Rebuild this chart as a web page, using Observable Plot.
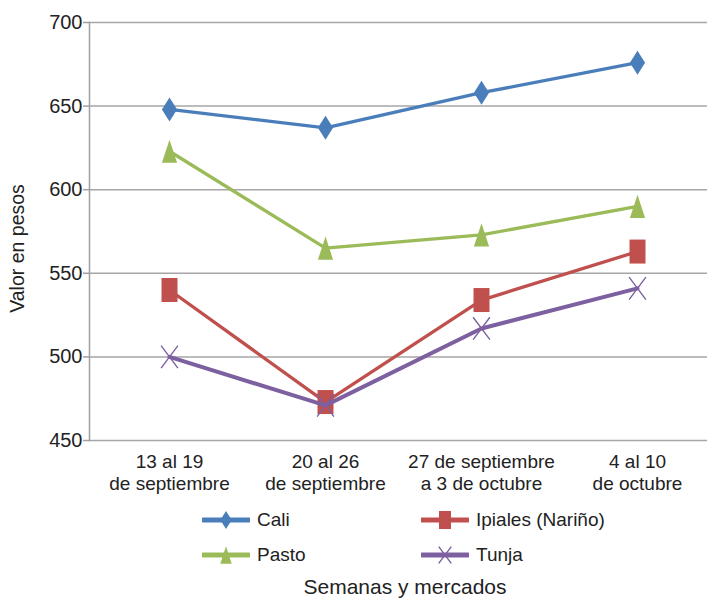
<!DOCTYPE html>
<html>
<head>
<meta charset="utf-8">
<script src="https://cdn.jsdelivr.net/npm/d3@7"></script>
<script src="https://cdn.jsdelivr.net/npm/@observablehq/plot@0.6"></script>
<style>
  body { margin: 0; background: #fff; font-family: "Liberation Sans", Arial, sans-serif; color: #222; }
  #chart { position: relative; width: 707px; height: 599px; overflow: hidden; background: #fff; }
  #legend { position: absolute; left: 202px; top: 507px; display: grid; grid-template-columns: 219px auto; grid-auto-rows: 35px; }
  .item { display: flex; align-items: center; height: 26px; font-size: 19px; }
  .item svg { margin-right: 7px; }
  #xtitle { position: absolute; left: 103px; right: 0; top: 576px; text-align: center; font-size: 21px; line-height: 21px; }
</style>
</head>
<body>
<div id="chart"></div>
<script>
// ---- data ----
const weeks = ["13 al 19\nde septiembre", "20 al 26\nde septiembre", "27 de septiembre\na 3 de octubre", "4 al 10\nde octubre"];
const series = ["Cali", "Ipiales (Nariño)", "Pasto", "Tunja"];
const cali    = [648, 637, 658, 676];
const ipiales = [540, 473, 534, 563];
const pasto   = [623, 565, 573, 590];
const tunja   = [500, 471, 517, 541];
const yTicks  = [450, 500, 550, 600, 650, 700];
const yLabel = "Valor en pesos";
const xLabel = "Semanas y mercados";

const values = [cali, ipiales, pasto, tunja];
const colors = ["#4A7EBB", "#C0504D", "#9BBB59", "#7D60A0"];

// custom tall symbols (Excel style markers)
const rad = (size) => Math.sqrt(size / Math.PI);
const diamondTall = { draw(ctx, size) { const r = rad(size), w = r * 0.95, h = r * 1.5;
  ctx.moveTo(0, -h); ctx.lineTo(w, 0); ctx.lineTo(0, h); ctx.lineTo(-w, 0); ctx.closePath(); } };
const rectTall = { draw(ctx, size) { const r = rad(size), w = r, h = r * 1.5;
  ctx.moveTo(-w, -h); ctx.lineTo(w, -h); ctx.lineTo(w, h); ctx.lineTo(-w, h); ctx.closePath(); } };
const triTall = { draw(ctx, size) { const r = rad(size), w = r * 0.95, h = r * 1.45;
  ctx.moveTo(0, -h); ctx.lineTo(w, h); ctx.lineTo(-w, h); ctx.closePath(); } };
const xTall = { draw(ctx, size) { const r = rad(size), w = r * 1.05, h = r * 1.4;
  ctx.moveTo(-w, -h); ctx.lineTo(w, h); ctx.moveTo(w, -h); ctx.lineTo(-w, h); } };
const symbols = [diamondTall, rectTall, triTall, xTall];
const lineWidths = [3.3, 3.3, 3.3, 4];

const rows = [];
series.forEach((s, i) => values[i].forEach((v, j) => rows.push({ series: s, week: weeks[j], value: v })));

const seriesMarks = series.flatMap((s, i) => {
  const d = rows.filter(r => r.series === s);
  const isX = i === 3;
  return [
    Plot.line(d, { x: "week", y: "value", stroke: colors[i], strokeWidth: lineWidths[i] }),
    Plot.dot(d, { x: "week", y: "value", r: 8, symbol: symbols[i],
      fill: isX ? "none" : colors[i], stroke: isX ? colors[i] : "none", strokeWidth: isX ? 1.4 : 0 })
  ];
});

const plot = Plot.plot({
  width: 707, height: 500,
  marginLeft: 89, marginRight: 0, marginTop: 22, marginBottom: 60,
  style: { fontFamily: "Liberation Sans, Arial, sans-serif", fontSize: "19px", color: "#222", background: "#fff", overflow: "visible" },
  x: { type: "point", domain: weeks, range: [168, 637], padding: 0 },
  y: { domain: [450, 700] },
  marks: [
    Plot.gridY(yTicks, { stroke: "#a6a6a6", strokeOpacity: 1, strokeWidth: 1.5 }),
    Plot.frame({ anchor: "left", stroke: "#a0a0a0", strokeWidth: 1.5 }),
    Plot.axisY(yTicks, { tickSize: 6, tickPadding: 1, stroke: "#a0a0a0", strokeWidth: 1.5, label: null, fontSize: 20, fill: "#222" }),
    Plot.axisX({ tickSize: 0, tickPadding: 12, label: null, fontSize: 19, lineHeight: 1.15, fill: "#222" }),
    Plot.text([yLabel], { frameAnchor: "left", rotate: -90, dx: -72, dy: 17, fontSize: 19.5, fill: "#222", textAnchor: "middle", lineAnchor: "middle" }),
    ...seriesMarks
  ]
});

const chart = document.getElementById("chart");
chart.appendChild(plot);

// legend
const legend = document.createElement("div");
legend.id = "legend";
series.forEach((s, i) => {
  const item = document.createElement("div");
  item.className = "item";
  const svg = d3.create("svg").attr("width", 48).attr("height", 26);
  svg.append("line").attr("x1", 1).attr("x2", 47).attr("y1", 13).attr("y2", 13)
    .attr("stroke", colors[i]).attr("stroke-width", 5).attr("stroke-linecap", "round");
  const isX = i === 3;
  svg.append("path").attr("transform", "translate(24,13)")
    .attr("d", d3.symbol(symbols[i], Math.PI * 36)())
    .attr("fill", isX ? "none" : colors[i]).attr("stroke", isX ? colors[i] : "none").attr("stroke-width", 1.4);
  item.appendChild(svg.node());
  const t = document.createElement("span");
  t.textContent = s;
  item.appendChild(t);
  legend.appendChild(item);
});
chart.appendChild(legend);

const xt = document.createElement("div");
xt.id = "xtitle";
xt.textContent = xLabel;
chart.appendChild(xt);
</script>
</body>
</html>
